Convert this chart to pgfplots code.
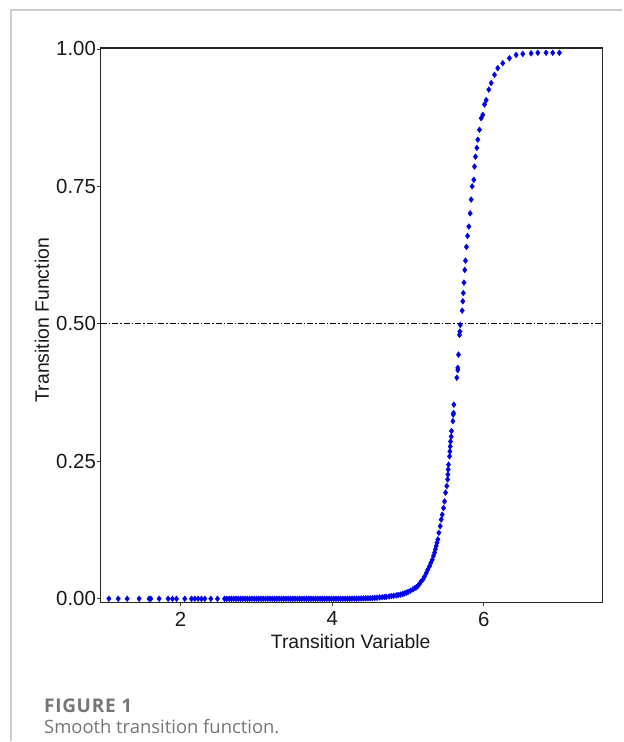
\documentclass[border=0pt]{standalone}
\usepackage{fontspec}
\setmainfont{Liberation Sans}
\newfontfamily\capfont{Open Sans}
\newfontfamily\capfonthead{Open Sans}[LetterSpace=4]
\usepackage{pgfplots}
\pgfplotsset{compat=1.18}
\definecolor{ptblue}{RGB}{0,0,232}
\definecolor{framegray}{RGB}{205,205,205}
\definecolor{capgray}{RGB}{118,118,118}

\pgfplotstableread{
x G
1.054 0
1.177 0
1.295 0
1.453 0
1.585 0
1.607 0
1.717 0
1.835 0
1.893 0
1.946 0
2.055 0
2.144 0
2.187 0
2.231 0
2.275 0
2.319 0
2.398 0
2.486 0
2.58 0
2.61 0
2.64 0
2.67 0
2.70 0
2.73 0
2.76 0
2.79 0
2.82 0
2.85 0
2.88 0
2.91 0
2.94 0
2.97 0
3.00 0
3.03 0
3.06 0
3.09 0
3.12 0
3.15 0
3.18 0
3.21 0
3.24 0
3.27 0
3.30 0
3.33 0
3.36 0
3.39 0
3.42 0
3.45 0
3.48 0
3.51 0
3.54 0
3.57 0
3.60 0
3.63 0
3.66 0
3.69 0
3.72 0
3.75 0
3.78 0
3.81 0
3.84 0
3.87 0
3.90 0
3.93 0
3.96 0
3.99 0
4.02 0
4.05 0
4.08 0
4.11 0
4.14 0
4.17 0
4.20 0.0001
4.23 0.0001
4.26 0.0002
4.29 0.0003
4.32 0.0003
4.35 0.0004
4.38 0.0005
4.41 0.0006
4.44 0.0007
4.47 0.0008
4.50 0.0010
4.53 0.0012
4.56 0.0015
4.59 0.0018
4.624 0.0024
4.66 0.0028
4.69 0.0032
4.713 0.0036
4.75 0.0042
4.78 0.0048
4.81 0.0054
4.844 0.0060
4.87 0.0068
4.90 0.0076
4.93 0.0088
4.95 0.0096
4.976 0.011
5.00 0.0125
5.03 0.0145
5.063 0.017
5.09 0.0195
5.11 0.021
5.129 0.023
5.15 0.027
5.17 0.031
5.195 0.035
5.215 0.040
5.240 0.047
5.26 0.053
5.283 0.059
5.30 0.065
5.319 0.071
5.335 0.078
5.349 0.084
5.36 0.090
5.371 0.096
5.382 0.102
5.393 0.108
5.406 0.120
5.424 0.132
5.437 0.144
5.451 0.153
5.468 0.165
5.481 0.177
5.494 0.193
5.511 0.205
5.521 0.217
5.525 0.226
5.529 0.235
5.534 0.244
5.547 0.259
5.551 0.268
5.556 0.277
5.560 0.286
5.569 0.295
5.573 0.305
5.591 0.323
5.596 0.335
5.600 0.338
5.604 0.353
5.643 0.402
5.656 0.416
5.656 0.420
5.665 0.444
5.679 0.480
5.683 0.486
5.688 0.498
5.714 0.524
5.722 0.541
5.728 0.556
5.737 0.575
5.748 0.598
5.757 0.615
5.770 0.640
5.785 0.660
5.801 0.677
5.819 0.701
5.832 0.726
5.845 0.750
5.867 0.762
5.876 0.786
5.889 0.804
5.907 0.820
5.920 0.835
5.942 0.853
5.964 0.874
5.986 0.880
6.008 0.899
6.030 0.907
6.065 0.926
6.096 0.938
6.140 0.953
6.183 0.965
6.249 0.974
6.337 0.983
6.425 0.989
6.513 0.991
6.623 0.992
6.711 0.993
6.820 0.993
6.908 0.993
6.996 0.993
}\trdata

\begin{document}
\begin{tikzpicture}[x=1bp,y=1bp]
\path (0,0) rectangle (623,742);
\draw[framegray, line width=1.3bp] (11,0) -- (11,732) -- (623,732);
\begin{axis}[
  at={(100.7bp,138.7bp)}, anchor=south west,
  scale only axis, width=502bp, height=555.3bp,
  xmin=0.945, xmax=7.56, ymin=-0.0073, ymax=1.0018,
  xtick={2,4,6}, xticklabels={2,4,6},
  ytick={0,0.25,0.5,0.75,1}, yticklabels={0.00,0.25,0.50,0.75,1.00},
  xtick pos=bottom, ytick pos=left,
  tick align=outside, major tick length=3.5bp,
  axis line style={black!85, line width=1.2bp},
  tick style={black!75, line width=0.8bp},
  ticklabel style={font=\fontsize{20.5}{21}\selectfont, text=black!90},
  xticklabel style={inner sep=1bp, yshift=-4.5bp},
  yticklabel style={inner sep=1bp},
  clip=false,
]
\addplot[black, line width=0.9bp, dash pattern=on 6bp off 2bp on 1.5bp off 2bp] coordinates {(0.945,0.5)(7.56,0.5)};
\addplot[only marks, mark=diamond*, mark size=2.9bp, color=ptblue, mark options={fill=ptblue, draw=ptblue}] table[x=x, y=G] {\trdata};
\end{axis}
\node[font=\fontsize{19.5}{20}\selectfont, text=black!90] at (351,100) {Transition Variable};
\node[rotate=90, font=\fontsize{19.5}{20}\selectfont, text=black!90] at (42,421.5) {Transition Function};
\node[anchor=base west, inner sep=0, font=\capfonthead\bfseries\fontsize{19}{20}\selectfont, text=capgray] at (44,29) {FIGURE 1};
\node[anchor=base west, inner sep=0, font=\capfont\fontsize{18.5}{20}\selectfont, text=capgray] at (44,7.5) {Smooth transition function.};
\end{tikzpicture}
\end{document}
